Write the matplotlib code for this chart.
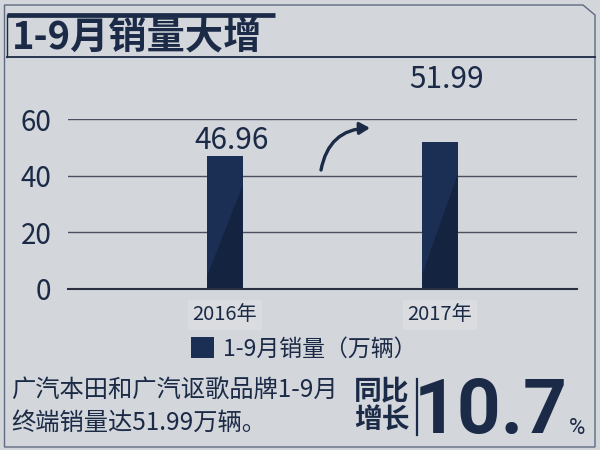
import matplotlib
matplotlib.use("Agg")
import matplotlib.pyplot as plt
from matplotlib.lines import Line2D
from matplotlib.patches import Polygon

plt.rcParams['font.family'] = ['Noto Sans CJK SC', 'DejaVu Sans']

# data
years = ['2016年', '2017年']
sales = [46.96, 51.99]
series_name = '1-9月销量（万辆）'
title = '1-9月销量大增'
note_lines = ['广汽本田和广汽讴歌品牌1-9月', '终端销量达51.99万辆。']
growth_label = '同比\n增长'
growth_value = '10.7'
yticks = [0, 20, 40, 60]

bg = '#d3d6db'
navy = '#1b2a46'
bar_top = '#1b2e53'
bar_low = '#14233f'

fig = plt.figure(figsize=(6, 4.5), dpi=100, facecolor=bg)
W, H = 600, 450

def fx(px):
    return px / W

def fy(py):
    return 1 - py / H

# frame with chamfered corner
frame = Polygon([(fx(4.5), fy(447)), (fx(4.5), fy(5)), (fx(583), fy(5)),
                 (fx(595), fy(15)), (fx(595), fy(447))], closed=True,
                fill=False, edgecolor='#5f6b80', lw=1.0, transform=fig.transFigure)
fig.add_artist(frame)
fig.add_artist(Line2D([fx(7), fx(275)], [fy(15), fy(15)], color=navy, lw=3.4,
                      solid_capstyle='butt', transform=fig.transFigure))
fig.add_artist(Line2D([fx(7), fx(7)], [fy(15), fy(57)], color=navy, lw=1.0,
                      transform=fig.transFigure))
fig.add_artist(Line2D([fx(7), fx(595)], [fy(57), fy(57)], color=navy, lw=1.3,
                      transform=fig.transFigure))
fig.text(fx(12), fy(38), title, fontsize=27.5, fontweight='bold', color=navy,
         ha='left', va='center')

# bar chart
ax = fig.add_axes([fx(68), 161 / H, (577 - 68) / W, 169.7 / H])
ax.set_facecolor(bg)
x = list(range(len(years)))
bars = ax.bar(x, sales, width=0.165, color=bar_top, zorder=3, label=series_name)
for b in bars:
    x0, w, h = b.get_x(), b.get_width(), b.get_height()
    ax.add_patch(Polygon([(x0, 0), (x0 + w, 0), (x0 + w, 0.78 * h), (x0, 0.1 * h)],
                         closed=True, color=bar_low, lw=0, zorder=3.5))
ax.set_xlim(-0.73, 1.637)
ax.set_ylim(0, 60)
ax.set_yticks(yticks)
ax.set_yticklabels([str(t) for t in yticks], fontsize=20, color=navy,
                   fontweight='light')
ax.set_xticks(x)
ax.set_xticklabels(years, fontsize=14.5, color=navy)
for lab in ax.get_xticklabels():
    lab.set_bbox(dict(facecolor='#dadce0', edgecolor='none', pad=3))
ax.tick_params(axis='both', length=0)
ax.tick_params(axis='x', pad=11)
ax.tick_params(axis='y', pad=12)
ax.yaxis.grid(True, color='#4a5060', lw=1.0, zorder=1)
for s in ['top', 'right', 'left']:
    ax.spines[s].set_visible(False)
ax.spines['bottom'].set_color('#2a3040')
ax.spines['bottom'].set_linewidth(1.5)
ax.spines['bottom'].set_zorder(4)

label_offsets = [11, 45]
for xi, v, off in zip(x, sales, label_offsets):
    ax.annotate(f'{v:.2f}', (xi, v), xytext=(5, off), textcoords='offset points',
                ha='center', va='center', fontsize=21.5, color=navy,
                annotation_clip=False)

ax.annotate('', xy=(fx(370), fy(128)), xytext=(fx(321), fy(170)),
            xycoords='figure fraction', textcoords='figure fraction',
            arrowprops=dict(arrowstyle='-|>,head_length=0.6,head_width=0.35',
                            connectionstyle='arc3,rad=-0.4', color=navy, lw=2.4,
                            shrinkA=0, shrinkB=0))

leg = ax.legend(loc='center', bbox_to_anchor=(fx(304), fy(349)),
                bbox_transform=fig.transFigure, frameon=False, fontsize=16.5,
                handlelength=1.0, handleheight=1.0, handletextpad=0.4,
                labelcolor=navy)

# bottom note
fig.text(fx(11), fy(390), note_lines[0], fontsize=17.5, color=navy,
         ha='left', va='center')
fig.text(fx(11), fy(423), note_lines[1], fontsize=17.5, color=navy,
         ha='left', va='center')
fig.text(fx(354), fy(406), growth_label, fontsize=20, fontweight='bold',
         color=navy, ha='left', va='center', linespacing=1.0)
fig.add_artist(Line2D([fx(417), fx(417)], [fy(379), fy(435)], color=navy, lw=1.6,
                      transform=fig.transFigure))
fig.text(fx(414), fy(433), growth_value, fontsize=55, fontweight='bold',
         color=navy, ha='left', va='baseline', family=['Roboto', 'DejaVu Sans'])
fig.text(fx(569), fy(434), '%', fontsize=16, color=navy, ha='left',
         va='baseline', family=['Roboto', 'DejaVu Sans'])

fig.savefig('out.png', dpi=100, facecolor=bg)
